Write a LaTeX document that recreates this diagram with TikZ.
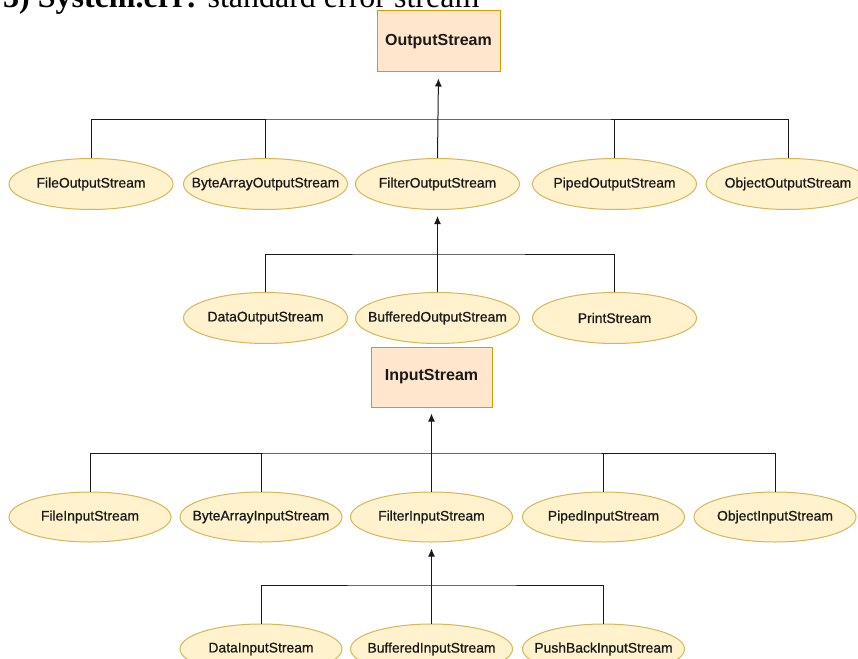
\documentclass[tikz,border=0pt]{standalone}
\usepackage{fontspec}
\setmainfont{Liberation Serif}
\newfontfamily\lblfont[FakeBold=0.8]{Liberation Sans}
\newfontfamily\hdfont{Liberation Sans}
\usetikzlibrary{shapes.geometric,arrows.meta}
\definecolor{ellfill}{HTML}{FFF2CC}
\definecolor{elldraw}{HTML}{D6B656}
\definecolor{boxfill}{HTML}{FFE6CC}
\definecolor{boxdraw}{HTML}{D79B00}
\definecolor{txt}{HTML}{1A1A1A}
\definecolor{ln}{HTML}{1A1A1A}
\newcommand{\lb}[1]{\makebox[0pt][c]{#1}}
\tikzset{
  cls/.style={ellipse, draw=elldraw, fill=ellfill, line width=1pt, inner sep=0pt,
    minimum width=164pt, minimum height=51pt, text=txt,
    font=\lblfont\fontsize{13.9}{14}\selectfont},
  clsi/.style={cls, minimum width=162pt, minimum height=50pt},
  base/.style={rectangle, draw=boxdraw, fill=boxfill, line width=1pt, inner sep=0pt,
    text=txt, font=\hdfont\bfseries\fontsize{16}{16}\selectfont},
  conn/.style={draw=ln, line width=1pt},
  arr/.style={conn, -{Latex[length=8pt,width=7pt]}, shorten >=6pt}
}
\begin{document}
\begin{tikzpicture}[x=1pt,y=-1pt]
\useasboundingbox (0,0) rectangle (858,658);
% clipped heading
\node[anchor=base west, inner sep=0pt, font=\fontsize{32}{32}\selectfont, text=black] (title) at (3,7.5)
  {\textbf{3) System.err:} standard error stream};

% OutputStream hierarchy
\node[base, minimum width=123pt, minimum height=61pt] (os) at (438.5,41.5) {OutputStream};
\node[cls] (fos) at (91,184) {\lb{FileOutputStream}};
\node[cls] (baos) at (265.5,184) {\lb{ByteArrayOutputStream}};
\node[cls] (filos) at (437.5,184) {\lb{FilterOutputStream}};
\node[cls] (pos) at (614.5,184) {\lb{PipedOutputStream}};
\node[cls] (oos) at (788,184) {\lb{ObjectOutputStream}};
\coordinate (busA) at (437.5,119);
\draw[conn] (fos.north) |- (busA) -| (oos.north);
\draw[conn] (baos.north) -- (baos.north |- busA);
\draw[conn] (pos.north) -- (pos.north |- busA);
\draw[arr] (filos.north) -- (os.south);

\node[cls] (dos) at (265.5,318) {\lb{DataOutputStream}};
\node[cls] (bos) at (437.5,318) {\lb{BufferedOutputStream}};
\node[cls] (ps) at (614.5,318) {\lb{PrintStream}};
\coordinate (busB) at (437.5,254);
\draw[conn] (dos.north) |- (busB) -| (ps.north);
\draw[arr] (bos.north) -- (filos.south);

% InputStream hierarchy
\node[base, minimum width=121pt, minimum height=60pt] (is) at (431.5,377) {InputStream};
\node[clsi] (fis) at (90,517) {\lb{FileInputStream}};
\node[clsi] (bais) at (261,517) {\lb{ByteArrayInputStream}};
\node[clsi] (filis) at (431.5,517) {\lb{FilterInputStream}};
\node[clsi] (pis) at (603.5,517) {\lb{PipedInputStream}};
\node[clsi] (ois) at (775,517) {\lb{ObjectInputStream}};
\coordinate (busC) at (431.5,453);
\draw[conn] (fis.north) |- (busC) -| (ois.north);
\draw[conn] (bais.north) -- (bais.north |- busC);
\draw[conn] (pis.north) -- (pis.north |- busC);
\draw[arr] (filis.north) -- (is.south);

\node[clsi] (dis) at (261,649) {\lb{DataInputStream}};
\node[clsi] (bis) at (431.5,649) {\lb{BufferedInputStream}};
\node[clsi] (pbis) at (603.5,649) {\lb{PushBackInputStream}};
\coordinate (busD) at (431.5,585);
\draw[conn] (dis.north) |- (busD) -| (pbis.north);
\draw[arr] (bis.north) -- (filis.south);
\end{tikzpicture}
\end{document}
